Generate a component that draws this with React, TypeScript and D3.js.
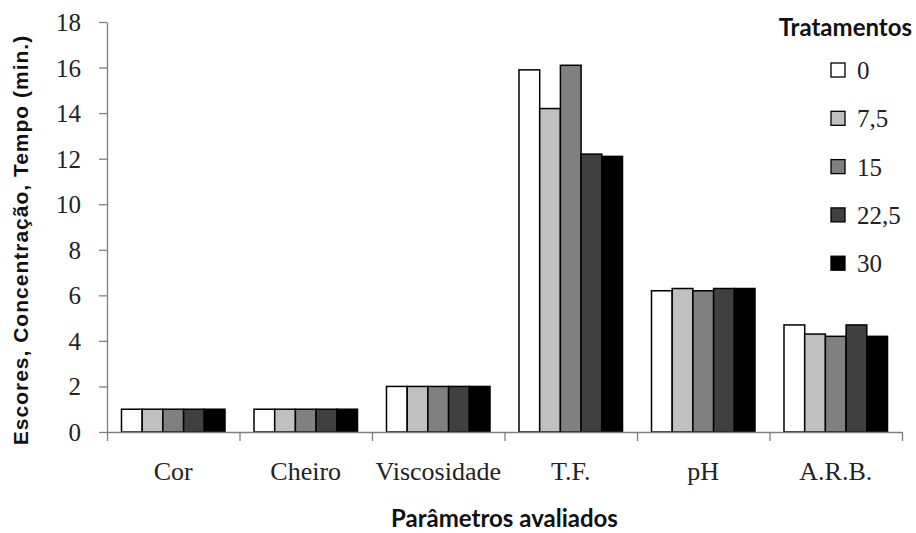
import { useEffect, useRef } from "react";
import * as d3 from "d3";

const WIDTH = 916;
const HEIGHT = 533;
const MARGIN = { top: 22, right: 14, bottom: 101, left: 107 };

const categories = ["Cor", "Cheiro", "Viscosidade", "T.F.", "pH", "A.R.B."];
const treatments = ["0", "7,5", "15", "22,5", "30"];
const colors = ["#ffffff", "#c0c0c0", "#808080", "#404040", "#000000"];

// values per treatment, same order as categories
const t0 = [1, 1, 2, 15.9, 6.2, 4.7];
const t7 = [1, 1, 2, 14.2, 6.3, 4.3];
const t15 = [1, 1, 2, 16.1, 6.2, 4.2];
const t22 = [1, 1, 2, 12.2, 6.3, 4.7];
const t30 = [1, 1, 2, 12.1, 6.3, 4.2];
const series = [t0, t7, t15, t22, t30];

const yTicks = [0, 2, 4, 6, 8, 10, 12, 14, 16, 18];

const SERIF = "Liberation Serif";
const SANS = "Lato";

export default function App() {
  const svgRef = useRef<SVGSVGElement>(null);

  useEffect(() => {
    const svgEl = svgRef.current;
    if (!svgEl) return;
    const svg = d3.select(svgEl);
    svg.selectAll("*").remove();

    const plotW = 795;
    const plotH = HEIGHT - MARGIN.top - MARGIN.bottom;

    const x = d3.scaleBand().domain(categories).range([0, plotW]).paddingInner(0).paddingOuter(0);
    const inner = d3
      .scaleBand()
      .domain(treatments)
      .range([0, x.bandwidth()])
      .paddingOuter(0.7)
      .paddingInner(0);
    const y = d3.scaleLinear().domain([0, 18]).range([plotH, 0]);

    const g = svg.append("g").attr("transform", `translate(${MARGIN.left},${MARGIN.top})`);

    // bars
    series.forEach((vals, si) => {
      g.append("g")
        .selectAll("rect")
        .data(vals)
        .join("rect")
        .attr("x", (_, i) => (x(categories[i]) ?? 0) + (inner(treatments[si]) ?? 0))
        .attr("y", (d) => y(d))
        .attr("width", inner.bandwidth())
        .attr("height", (d) => plotH - y(d))
        .attr("fill", colors[si])
        .attr("stroke", "#000")
        .attr("stroke-width", 1.5);
    });

    // y axis
    const yAxis = g
      .append("g")
      .call(d3.axisLeft(y).tickValues(yTicks).tickSize(8).tickSizeOuter(0).tickPadding(18));
    yAxis.attr("font-family", SERIF).attr("font-size", 25);
    yAxis.select(".domain").attr("stroke", "#7f7f7f").attr("stroke-width", 1.3);
    yAxis.selectAll(".tick line").attr("stroke", "#7f7f7f").attr("stroke-width", 1.3);
    yAxis
      .selectAll(".tick text")
      .attr("font-family", SERIF)
      .attr("dy", "0.34em")
      .attr("fill", "#222");

    // x axis
    const xAxis = g
      .append("g")
      .attr("transform", `translate(0,${plotH})`)
      .call(
        d3
          .axisBottom(d3.scaleLinear().domain([0, categories.length]).range([0, plotW]))
          .ticks(categories.length)
          .tickSize(9)
          .tickSizeOuter(0)
          .tickFormat(() => "")
      );
    xAxis.select(".domain").attr("stroke", "#7f7f7f").attr("stroke-width", 1.3);
    xAxis.selectAll(".tick line").attr("stroke", "#7f7f7f").attr("stroke-width", 1.3);

    g.append("g")
      .selectAll("text")
      .data(categories)
      .join("text")
      .attr("x", (d) => (x(d) ?? 0) + x.bandwidth() / 2)
      .attr("y", plotH + 48)
      .attr("text-anchor", "middle")
      .attr("font-family", SERIF)
      .attr("font-size", 26)
      .attr("fill", "#222")
      .text((d) => d);

    // axis titles
    svg
      .append("text")
      .attr("x", MARGIN.left + plotW / 2)
      .attr("y", 527)
      .attr("text-anchor", "middle")
      .attr("font-family", SANS)
      .attr("font-weight", 700)
      .attr("font-size", 24)
      .attr("fill", "#111")
      .text("Parâmetros avaliados");

    svg
      .append("text")
      .attr("transform", "translate(28,240) rotate(-90)")
      .attr("text-anchor", "middle")
      .attr("font-family", "Liberation Sans")
      .attr("font-weight", 700)
      .attr("font-size", 21)
      .attr("letter-spacing", 1)
      .attr("fill", "#111")
      .text("Escores, Concentração, Tempo (min.)");

    // legend
    svg
      .append("text")
      .attr("x", 912)
      .attr("y", 36)
      .attr("text-anchor", "end")
      .attr("font-family", SANS)
      .attr("font-weight", 700)
      .attr("font-size", 24)
      .attr("fill", "#111")
      .text("Tratamentos");

    const legend = svg
      .append("g")
      .selectAll("g")
      .data(treatments)
      .join("g")
      .attr("transform", (_, i) => `translate(831,${70 + i * 48.3})`);
    legend
      .append("rect")
      .attr("x", 0)
      .attr("y", -7)
      .attr("width", 14)
      .attr("height", 14)
      .attr("fill", (_, i) => colors[i])
      .attr("stroke", "#000")
      .attr("stroke-width", 1.3);
    legend
      .append("text")
      .attr("x", 26)
      .attr("y", 9)
      .attr("font-family", SERIF)
      .attr("font-size", 25)
      .attr("fill", "#222")
      .text((d) => d);
  }, []);

  return (
    <svg
      ref={svgRef}
      width={WIDTH}
      height={HEIGHT}
      style={{ position: "absolute", left: 0, top: 0, background: "#fff", fontFamily: "Liberation Serif" }}
    />
  );
}
